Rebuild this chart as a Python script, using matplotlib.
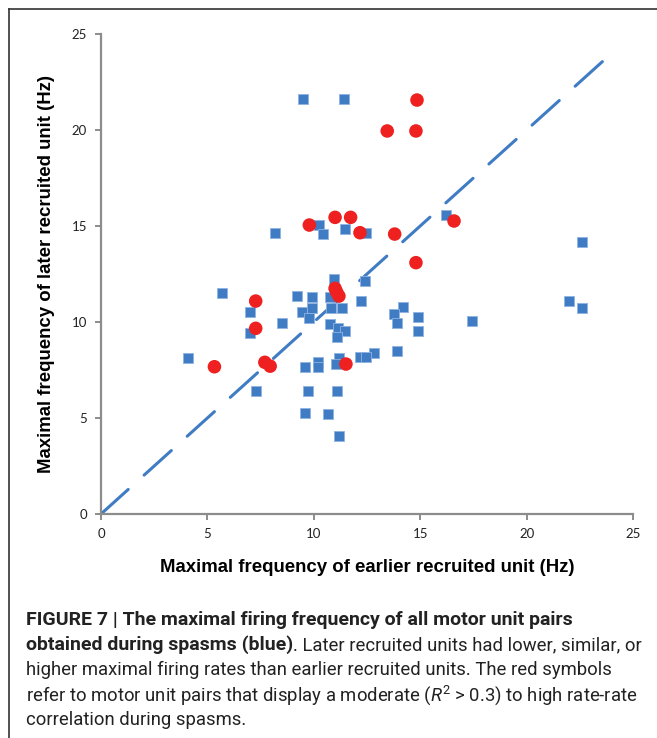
import matplotlib
matplotlib.use("Agg")
import matplotlib.pyplot as plt
from matplotlib.lines import Line2D

# earlier recruited (x) vs later recruited (y) max firing freq, Hz
blue_x = [9.5, 11.4, 8.2, 10.25, 10.45, 11.47, 12.45, 16.2, 10.95, 12.42,
          22.6, 22.0, 22.62, 17.42, 14.17, 13.78, 13.9, 14.9, 14.88, 13.89,
          5.67, 7.0, 7.0, 8.49, 9.22, 9.93, 10.76, 12.23, 9.46, 9.93,
          9.79, 10.79, 11.31, 10.76, 11.15, 11.47, 11.1, 12.85, 12.17, 12.45,
          11.2, 9.59, 10.21, 10.21, 11.04, 4.1, 7.27, 9.71, 11.1, 9.59,
          10.65, 11.2]
blue_y = [21.6, 21.6, 14.65, 15.05, 14.57, 14.84, 14.65, 15.57, 12.22, 12.15,
          14.15, 11.11, 10.75, 10.03, 10.76, 10.42, 9.93, 10.28, 9.51, 8.49,
          11.53, 10.5, 9.41, 9.93, 11.35, 11.28, 11.28, 11.11, 10.54, 10.71,
          10.19, 10.71, 10.71, 9.9, 9.67, 9.52, 9.2, 8.37, 8.2, 8.2,
          8.14, 7.67, 7.9, 7.67, 7.81, 8.11, 6.4, 6.4, 6.4, 5.28,
          5.19, 4.06]

red_x = [14.85, 13.45, 14.8, 9.79, 11.0, 11.73, 12.17, 13.8, 16.59, 14.8,
         11.0, 11.08, 11.18, 7.27, 7.27, 5.33, 7.7, 7.95, 11.51]
red_y = [21.56, 19.95, 19.95, 15.05, 15.45, 15.45, 14.65, 14.58, 15.26, 13.09,
         11.75, 11.55, 11.35, 11.09, 9.67, 7.67, 7.9, 7.7, 7.81]

diag = [0, 23.7]
ticks = [0, 5, 10, 15, 20, 25]

W, H = 657, 738
fig = plt.figure(figsize=(W / 100, H / 100), dpi=100)
ax = fig.add_axes([101 / W, 224 / H, 532 / W, 480 / H])

ax.plot(diag, diag, color="#3f7cc4", lw=2.2, dashes=(12, 7), dash_capstyle="round", zorder=1)
ax.scatter(blue_x, blue_y, marker="s", s=55, color="#3f7cc4", edgecolor="#8fb3e0", linewidth=0.6, zorder=2)
ax.scatter(red_x, red_y, marker="o", s=95, color="#ee2020", edgecolor="none", zorder=3)

ax.set_xlim(0, 25)
ax.set_ylim(0, 25)
ax.set_xticks(ticks)
ax.set_yticks(ticks)
for side in ["top", "right"]:
    ax.spines[side].set_visible(False)
for side in ["left", "bottom"]:
    ax.spines[side].set_color("#8c8c8c")
    ax.spines[side].set_linewidth(1.6)
ax.tick_params(color="#8c8c8c", width=1.4, length=4, labelsize=9.5, labelcolor="#222222", pad=6)
for lab in ax.get_xticklabels() + ax.get_yticklabels():
    lab.set_fontfamily("Lato")

ax.set_xlabel("Maximal frequency of earlier recruited unit (Hz)", fontsize=13.4,
              fontweight="bold", family="Liberation Sans", labelpad=14)
ax.set_ylabel("Maximal frequency of later recruited unit (Hz)", fontsize=13.4,
              fontweight="bold", family="Liberation Sans", labelpad=12)

# frame round the figure panel
fig.add_artist(Line2D([9 / W, 9 / W], [0, 1 - 9 / H], transform=fig.transFigure, color="#333333", lw=1.2))
fig.add_artist(Line2D([9 / W, 1], [1 - 9 / H, 1 - 9 / H], transform=fig.transFigure, color="#333333", lw=1.2))

# caption
plt.rcParams["mathtext.fontset"] = "custom"
plt.rcParams["mathtext.rm"] = "Roboto"
plt.rcParams["mathtext.it"] = "Roboto:italic"
bfont = dict(family="Roboto", fontsize=14, color="#222222", fontweight="bold")
cfont = dict(family="Roboto", fontsize=13.3, color="#222222")
x0 = 26 / W
fig.text(x0, 1 - 620 / H, "FIGURE 7 | The maximal firing frequency of all motor unit pairs",
         va="center", **bfont)
t2 = fig.text(x0, 1 - 645 / H, "obtained during spasms (blue)", va="center", **bfont)
ax.annotate(". Later recruited units had lower, similar, or", xy=(1, 0.5), xycoords=t2,
            va="center", ha="left", annotation_clip=False, **cfont)
fig.text(x0, 1 - 670 / H, "higher maximal firing rates than earlier recruited units. The red symbols",
         va="center", **cfont)
fig.text(x0, 1 - 695 / H, r"refer to motor unit pairs that display a moderate ($\it{R}^2$ > 0.3) to high rate-rate",
         va="center", **cfont)
fig.text(x0, 1 - 720 / H, "correlation during spasms.", va="center", **cfont)

fig.savefig("out.png", dpi=100)
